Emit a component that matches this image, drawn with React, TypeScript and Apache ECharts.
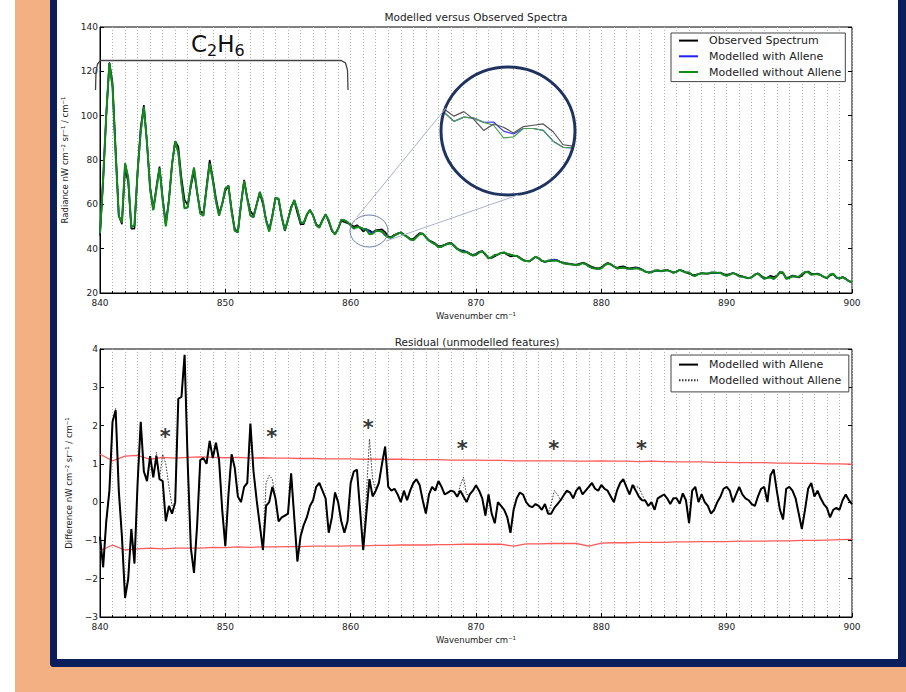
import React, { useEffect, useRef } from 'react';
import * as echarts from 'echarts';

const FONT = "'DejaVu Sans', sans-serif";
const WN_START = 840;
const WN_STEP = 0.25;

// Observed spectrum, radiance (nW cm-2 sr-1 / cm-1), sampled every 0.25 cm-1 from 840
const observedSpectrum = [
  46, 70, 100, 124, 115, 85, 55, 51,
  76, 70, 49, 49, 75, 95, 104.8, 88,
  68, 58, 68, 77, 63, 51, 62, 78,
  88.5, 86, 72, 62, 59.7, 68, 74.7, 65,
  57, 56, 68, 80, 72, 63, 56, 60,
  66, 68.5, 58, 49, 47.5, 60, 71, 63,
  57, 55, 60, 65, 60, 53, 48.4, 55,
  63, 62, 54, 48, 53, 59, 61.5, 56,
  51, 51, 55, 57.4, 55, 51, 50, 53,
  55.5, 52, 48, 46.6, 49, 52.5, 52, 51.5,
  51, 49.9, 50.6, 49.4, 47.7, 48.7, 48.2, 47.3,
  48.3, 48.5, 48.7, 47.5, 45.5, 45.3, 46.3, 46.9,
  47.3, 46.5, 45.4, 44.5, 44.3, 45.8, 47.0, 46.8,
  45.0, 43.8, 43.1, 42.3, 41.2, 41.3, 41.8, 42.4,
  42.7, 41.5, 40.0, 39.4, 39.0, 38.6, 37.8, 37.2,
  37.6, 38.6, 38.9, 37.2, 35.8, 35.8, 36.6, 37.4,
  38.0, 38.1, 37.2, 36.5, 36.7, 36.8, 36.0, 35.0,
  34.4, 34.2, 35.2, 36.3, 35.6, 34.4, 34.0, 34.3,
  34.6, 34.9, 34.7, 34.0, 33.6, 33.4, 33.2, 32.9,
  32.8, 33.2, 33.7, 33.3, 32.4, 31.8, 31.4, 31.1,
  31.6, 32.8, 33.6, 33.0, 32.0, 31.4, 31.8, 32.1,
  31.5, 31.1, 31.4, 31.6, 31.3, 30.6, 29.7, 29.2,
  29.4, 29.9, 30.2, 30.0, 30.2, 30.4, 29.8, 29.2,
  29.7, 30.4, 30.0, 29.3, 28.7, 28.3, 28.1, 28.6,
  29.0, 28.8, 28.7, 28.9, 29.0, 29.1, 29.2, 28.6,
  28.2, 28.6, 29.0, 28.6, 27.9, 27.5, 27.1, 26.7,
  27.1, 28.2, 28.9, 27.8, 26.8, 26.9, 27.8, 27.2,
  27.8, 29.3, 28.8, 26.8, 27.2, 27.9, 27.5, 27.0,
  27.8, 29.3, 29.7, 28.8, 28.6, 28.8, 28.2, 27.2,
  26.6, 27.9, 28.5, 26.9, 26.4, 27.2, 26.5, 25.4,
  24.8,
];

// Residual observed - modelled (with allene), same sampling
const residualWithAllene = [
  -0.9, -1.7, -0.5, 0.3, 2.1, 2.4, 0.3, -0.9,
  -2.5, -2.0, -0.7, -1.6, 0.5, 2.1, 0.8, 0.55,
  1.2, 0.65, 1.2, 0.6, 0.55, -0.5, -0.1, -0.3,
  0.0, 2.7, 2.75, 3.85, 1.0, -1.2, -1.85, -0.6,
  1.1, 1.15, 1.0, 1.6, 1.15, 1.55, 1.1, -0.2,
  -1.15, 0.2, 1.25, 0.9, 0.15, 0.0, 0.4, 0.5,
  2.05, 0.8, 0.05, -0.6, -1.25, -0.1, 0.0, 0.4,
  0.1, -0.5, -0.4, -0.35, -0.3, 0.75, -0.4, -1.55,
  -0.9, -0.6, -0.4, -0.1, 0.05, 0.4, 0.5, 0.3,
  0.1, -0.8, -0.4, 0.25, 0.0, -0.5, -0.8, -0.5,
  0.5, 0.8, 0.85, -0.2, -1.25, -0.3, 0.6, 0.15,
  0.3, 0.5, 1.0, 1.45, 0.4, 0.3, 0.35, 0.2,
  0.0, 0.3, 0.05, 0.3, 0.5, 0.6, 0.45, 0.05,
  -0.3, 0.2, 0.4, 0.3, 0.55, 0.4, 0.2, 0.25,
  0.3, 0.27, 0.14, 0.3, 0.15, 0.0, 0.2, 0.3,
  0.44, 0.3, 0.1, -0.35, 0.2, -0.3, -0.55, 0.0,
  -0.1, -0.2, -0.4, -0.8, -0.2, 0.1, 0.25, 0.2,
  0.0, -0.1, -0.13, -0.05, -0.1, -0.2, -0.05, -0.3,
  -0.3, -0.15, -0.05, 0.05, 0.18, 0.3, 0.25, 0.1,
  0.3, 0.4, 0.2, 0.3, 0.4, 0.5, 0.35, 0.3,
  0.45, 0.35, 0.3, 0.15, 0.0, 0.3, 0.5, 0.6,
  0.4, 0.2, 0.45, 0.3, 0.14, 0.05, 0.04, -0.1,
  0.0, -0.2, 0.1, 0.15, 0.2, 0.1, -0.05, 0.1,
  0.1, -0.04, 0.23, 0.05, -0.55, 0.3, 0.4, 0.0,
  0.2, 0.0, -0.1, -0.3, -0.2, 0.0, 0.14, 0.35,
  0.4, 0.3, 0.0, 0.2, 0.4, 0.2, 0.1, 0.05,
  -0.05, -0.1, 0.15, 0.35, 0.4, 0.0, 0.7, 0.85,
  0.3, -0.2, -0.45, 0.35, 0.4, 0.3, 0.1, -0.3,
  -0.7, -0.2, 0.35, 0.5, 0.15, 0.3, 0.1, -0.05,
  -0.15, -0.4, -0.2, -0.15, -0.2, 0.05, 0.2, 0.05,
  -0.05,
];

// Allene contribution: extra residual when allene is left out of the model
const alleneX = [841.25, 844.5, 845.0, 845.25, 845.5, 845.75, 853.25, 853.5, 853.75, 861.25, 861.5, 861.75, 868.75, 869.0, 869.25, 876.0, 876.25, 876.5, 882.75, 883.0, 883.25];
const alleneDelta = [0.05, 0.1, 0.7, 1.5, 0.5, 0.2, 0.6, 0.7, 0.2, 0.5, 1.05, 0.45, 0.15, 0.5, 0.2, 0.25, 0.45, 0.25, 0.1, 0.25, 0.15];

// Noise level (red), every 1 cm-1 from 840 to 900
const noiseUpper = [
  1.25, 1.08, 1.2, 1.22, 1.12, 1.17, 1.15, 1.17, 1.18, 1.17,
  1.16, 1.17, 1.15, 1.16, 1.15, 1.15, 1.14, 1.14, 1.13, 1.13,
  1.13, 1.12, 1.12, 1.12, 1.12, 1.11, 1.11, 1.11, 1.1, 1.1,
  1.1, 1.09, 1.09, 1.08, 1.08, 1.08, 1.08, 1.08, 1.07, 1.07,
  1.08, 1.07, 1.07, 1.06, 1.07, 1.06, 1.05, 1.05, 1.05, 1.04,
  1.04, 1.03, 1.03, 1.03, 1.02, 1.02, 1.01, 1.01, 1.0, 1.0,
  0.99,
];
const noiseLower = [
  -1.27, -1.12, -1.25, -1.22, -1.2, -1.22, -1.2, -1.2, -1.2, -1.18,
  -1.19, -1.17, -1.18, -1.17, -1.17, -1.16, -1.16, -1.15, -1.15, -1.15,
  -1.14, -1.14, -1.13, -1.13, -1.12, -1.12, -1.12, -1.11, -1.11, -1.1,
  -1.1, -1.1, -1.1, -1.15, -1.09, -1.09, -1.08, -1.08, -1.08, -1.15,
  -1.07, -1.06, -1.06, -1.05, -1.05, -1.05, -1.04, -1.04, -1.03, -1.03,
  -1.03, -1.02, -1.02, -1.02, -1.01, -1.01, -1.0, -1.0, -0.99, -0.98,
  -0.97,
];

// Asterisks marking allene features
const starX = [845.2, 853.7, 861.4, 868.9, 876.2, 883.2];
const starY = [1.8, 1.8, 2.05, 1.5, 1.5, 1.5];

const topLegend = ['Observed Spectrum', 'Modelled with Allene', 'Modelled without Allene'];
const bottomLegend = ['Modelled with Allene ', 'Modelled without Allene '];

export default function App() {
  const ref = useRef<HTMLDivElement>(null);

  useEffect(() => {
    if (!ref.current) return;
    const chart = echarts.init(ref.current, null, { renderer: 'svg' });

    const wn = observedSpectrum.map((_, i) => WN_START + i * WN_STEP);
    const deltaByIndex: Record<number, number> = {};
    alleneX.forEach((x, k) => { deltaByIndex[Math.round((x - WN_START) / WN_STEP)] = alleneDelta[k]; });
    const residualWithout = residualWithAllene.map((v, i) => v + (deltaByIndex[i] || 0));
    const modelWith = observedSpectrum.map((v, i) => v - residualWithAllene[i]);
    const modelWithout = observedSpectrum.map((v, i) => v - residualWithout[i]);
    const pairs = (ys: number[]) => ys.map((y, i) => [wn[i], +y.toFixed(3)]);
    const inInset = (p: number[]) => p[0] >= 860 && p[0] <= 863.25;
    const noiseX = noiseUpper.map((_, i) => WN_START + i);

    const gridLine = { show: true, lineStyle: { type: [1, 2], color: '#b0b0b0', width: 1 } };
    const xAxisBase = (gridIndex: number) => ({
      type: 'value', gridIndex, min: 840, max: 900, interval: 10,
      axisLine: { show: true, onZero: false, lineStyle: { color: '#000', width: 1 } },
      axisTick: { show: true, inside: true, length: 4, lineStyle: { color: '#000' } },
      minorTick: { show: true, splitNumber: 10, length: 2, lineStyle: { color: '#000' } },
      axisLabel: { fontSize: 9, color: '#222', margin: 5, fontFamily: FONT },
      splitLine: gridLine,
      minorSplitLine: gridLine,
      name: 'Wavenumber cm⁻¹', nameLocation: 'middle', nameGap: 18,
      nameTextStyle: { fontSize: 8.5, color: '#222', fontFamily: FONT },
    });
    const minus = (v: number) => (v < 0 ? '−' + Math.abs(v) : String(v));
    const yAxisBase = (gridIndex: number, min: number, max: number, interval: number, name: string, gap: number) => ({
      type: 'value', gridIndex, min, max, interval,
      axisLine: { show: true, onZero: false, lineStyle: { color: '#000' } },
      axisTick: { show: true, inside: true, length: 4, lineStyle: { color: '#000' } },
      axisLabel: { fontSize: 9, color: '#222', margin: 2, fontFamily: FONT, formatter: minus },
      splitLine: { show: false },
      name, nameLocation: 'middle', nameGap: gap,
      nameTextStyle: { fontSize: 8.5, color: '#222', fontFamily: FONT },
    });
    const yRight = (gridIndex: number, min: number, max: number, interval: number) => ({
      type: 'value', gridIndex, min, max, interval, position: 'right',
      axisLine: { show: false }, axisLabel: { show: false }, splitLine: { show: false },
      axisTick: { show: true, inside: true, length: 4, lineStyle: { color: '#000' } },
    });
    const line = (name: string, data: any[], color: string, width: number, xi: number, yi: number, extra: any = {}) => ({
      type: 'line', name, data, xAxisIndex: xi, yAxisIndex: yi,
      showSymbol: false, symbol: 'none', color,
      lineStyle: { color, width, ...(extra.lineStyle || {}) },
      z: extra.z ?? 2, silent: true, clip: true,
    });
    const legendBase = {
      orient: 'vertical', left: 671, itemGap: 4.5, itemWidth: 19, itemHeight: 14,
      borderColor: '#444', borderWidth: 1, borderRadius: 0, backgroundColor: '#fff', selectedMode: false,
      itemStyle: { color: 'rgba(0,0,0,0)', borderWidth: 0, opacity: 0 },
      textStyle: { fontSize: 11, color: '#222', fontFamily: FONT, padding: [0, 0, 0, 6] },
    };

    const option: any = {
      animation: false,
      title: [
        { text: 'Modelled versus Observed Spectra', left: 476, top: 11, textAlign: 'center', padding: 0,
          textStyle: { fontSize: 10.5, fontWeight: 'normal', color: '#222', fontFamily: FONT } },
        { text: 'Residual (unmodelled features)', left: 477, top: 336, textAlign: 'center', padding: 0,
          textStyle: { fontSize: 10.5, fontWeight: 'normal', color: '#222', fontFamily: FONT } },
      ],
      legend: [
        { ...legendBase, top: 33, padding: [2, 4, 4, 7], data: topLegend },
        { ...legendBase, top: 355, padding: [4, 4, 6, 7], data: bottomLegend },
      ],
      grid: [
        { left: 100, top: 27, width: 752, height: 266, show: true, borderColor: '#000', borderWidth: 1, backgroundColor: 'transparent' },
        { left: 100, top: 349, width: 752, height: 268, show: true, borderColor: '#000', borderWidth: 1, backgroundColor: 'transparent' },
        { left: 444, top: 76.5, width: 129, height: 104, show: false },
      ],
      xAxis: [
        xAxisBase(0),
        xAxisBase(1),
        { type: 'value', gridIndex: 2, min: 860, max: 863.25, show: false },
      ],
      yAxis: [
        yAxisBase(0, 20, 140, 20, 'Radiance nW cm⁻² sr⁻¹ / cm⁻¹', 16),
        yRight(0, 20, 140, 20),
        yAxisBase(1, -3, 4, 1, 'Difference nW cm⁻² sr⁻¹ / cm⁻¹', 14),
        yRight(1, -3, 4, 1),
        { type: 'value', gridIndex: 2, min: 40, max: 56, show: false },
      ],
      series: [
        line('Observed Spectrum', pairs(observedSpectrum), '#000000', 1.6, 0, 0, { z: 2 }),
        line('Modelled with Allene', pairs(modelWith), '#2020ff', 1.6, 0, 0, { z: 3 }),
        line('Modelled without Allene', pairs(modelWithout), '#138a13', 2, 0, 0, { z: 4 }),
        line('inset-with', pairs(modelWith).filter(inInset), '#3a3aff', 1.2, 2, 4, { z: 5 }),
        line('inset-without', pairs(modelWithout).filter(inInset), '#4f9f4f', 1.2, 2, 4, { z: 5 }),
        line('inset-observed', pairs(observedSpectrum).filter(inInset), '#555555', 1.2, 2, 4, { z: 6 }),
        line('noise-upper', noiseX.map((x, i) => [x, noiseUpper[i]]), '#ff5a5a', 1.3, 1, 2, { z: 2 }),
        line('noise-lower', noiseX.map((x, i) => [x, noiseLower[i]]), '#ff5a5a', 1.3, 1, 2, { z: 2 }),
        line('Modelled without Allene ', pairs(residualWithout), '#333333', 1, 1, 2, { z: 3, lineStyle: { type: [1.5, 1.5] } }),
        line('Modelled with Allene ', pairs(residualWithAllene), '#000000', 2, 1, 2, { z: 4 }),
        {
          type: 'scatter', name: 'stars', xAxisIndex: 1, yAxisIndex: 2, silent: true, z: 6,
          data: starX.map((x, i) => [x, starY[i]]), symbol: 'circle', symbolSize: 1,
          itemStyle: { color: 'rgba(0,0,0,0)' },
          label: { show: true, formatter: '*', position: 'inside', fontSize: 21, fontWeight: 'bold',
            color: '#000', fontFamily: FONT, offset: [0, 4] },
        },
      ],
      graphic: [
        { type: 'polyline', z: 50, silent: true,
          shape: { points: [[95.5, 90], [96, 72], [97.5, 64], [100.5, 60.5], [341, 60.5], [345.5, 63], [347.5, 70], [348, 90]] },
          style: { stroke: '#444', lineWidth: 1.3, fill: 'none' } },
        { type: 'text', z: 50, silent: true, x: 191, y: 30,
          style: {
            text: '{a|C}{b|2}{a|H}{b|6}', fontFamily: FONT, fill: '#111', verticalAlign: 'top',
            rich: {
              a: { fontSize: 23, lineHeight: 28, fontFamily: FONT, fill: '#111', verticalAlign: 'middle' },
              b: { fontSize: 16, lineHeight: 14, fontFamily: FONT, fill: '#111', verticalAlign: 'bottom' },
            },
          } },
        { type: 'ellipse', z: 50, silent: true, shape: { cx: 508, cy: 131, rx: 67, ry: 64 },
          style: { stroke: '#1f3360', lineWidth: 3, fill: 'none' } },
        { type: 'ellipse', z: 50, silent: true, shape: { cx: 369, cy: 231, rx: 19, ry: 16 },
          style: { stroke: '#6d7ea8', lineWidth: 1, fill: 'none' } },
        { type: 'line', z: 50, silent: true, shape: { x1: 357, y1: 217, x2: 446, y2: 108 },
          style: { stroke: '#a8b2cc', lineWidth: 1 } },
        { type: 'line', z: 50, silent: true, shape: { x1: 386, y1: 241, x2: 518, y2: 195 },
          style: { stroke: '#a8b2cc', lineWidth: 1 } },
      ],
    };

    chart.setOption(option);
    return () => chart.dispose();
  }, []);

  return (
    <div style={{ position: 'fixed', left: 0, top: 0, width: 906, height: 692, background: '#F3B083', overflow: 'hidden' }}>
      <div style={{ position: 'absolute', left: 0, top: 0, width: 15, height: 692, background: '#ffffff' }} />
      <div style={{
        position: 'absolute', left: 50, top: -10, width: 856, height: 677, boxSizing: 'border-box',
        background: '#ffffff', borderStyle: 'solid', borderColor: '#0B1F5C', borderWidth: '0 8px 8px 7px',
        borderBottomLeftRadius: 4,
      }} />
      <div ref={ref} style={{ position: 'absolute', left: 0, top: 0, width: 906, height: 692 }} />
    </div>
  );
}
